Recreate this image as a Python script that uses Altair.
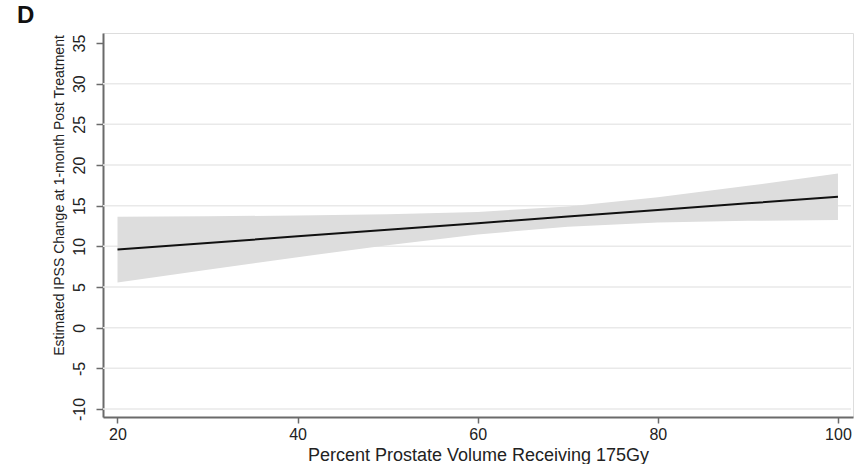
import altair as alt
import pandas as pd

# values
x_vals = [20, 30, 40, 50, 60, 70, 80, 90, 100]
fit = [9.60, 10.41, 11.23, 12.04, 12.85, 13.66, 14.48, 15.29, 16.10]
ci_low = [5.55, 7.12, 8.67, 10.14, 11.47, 12.42, 12.92, 13.14, 13.25]
ci_high = [13.65, 13.70, 13.79, 13.94, 14.23, 14.90, 16.04, 17.44, 18.95]

y_ticks = [-10, -5, 0, 5, 10, 15, 20, 25, 30, 35]
grid_vals = [-10, -5, 0, 5, 10, 15, 20, 25, 30]
x_ticks = [20, 40, 60, 80, 100]

df = pd.DataFrame({"x": x_vals, "fit": fit, "lo": ci_low, "hi": ci_high})
grid_df = pd.DataFrame({"g": grid_vals})

FONT = "Liberation Sans"
XDOM = [18.39, 101.67]
YDOM = [-10.98, 36.23]

xs = alt.Scale(domain=XDOM, nice=False, zero=False)
ys = alt.Scale(domain=YDOM, nice=False, zero=False)

x_axis = alt.Axis(
    values=x_ticks, title="Percent Prostate Volume Receiving 175Gy",
    grid=False, domainColor="#6a6a6a", domainWidth=2, tickColor="#6a6a6a",
    tickWidth=1.5, tickSize=6, labelFont=FONT, labelFontSize=16,
    labelColor="#222222", labelPadding=3, titleFont=FONT, titleFontSize=18,
    titleFontWeight="normal", titleColor="#222222", titleBaseline="alphabetic",
    titleY=43, labelFlush=False,
)
y_axis = alt.Axis(
    values=y_ticks, title="Estimated IPSS Change at 1-month Post Treatment",
    grid=False, domainColor="#6a6a6a", domainWidth=2, tickColor="#6a6a6a",
    tickWidth=1.5, tickSize=7, labelFont=FONT, labelFontSize=16,
    labelColor="#222222", labelAngle=270, labelAlign="center",
    labelBaseline="alphabetic", labelPadding=12, titleFont=FONT,
    labelExpr="datum.value < 0 ? '-' + abs(datum.value) : '' + datum.value",
    titleFontSize=14, titleFontWeight="normal", titleColor="#222222",
    titleAngle=270, titleAlign="center", titleBaseline="alphabetic",
    titleX=-40, titleY=162, labelFlush=False, labelOverlap=False,
)

grid = alt.Chart(grid_df).mark_rule(color="#e9e9e9", strokeWidth=1.5).encode(
    y=alt.Y("g:Q", scale=ys, axis=y_axis),
    x=alt.value(0), x2=alt.value(748),
)

band = alt.Chart(df).mark_area(color="#dddddd", opacity=1).encode(
    x=alt.X("x:Q", scale=xs, axis=x_axis),
    y=alt.Y("lo:Q", scale=ys),
    y2="hi:Q",
)

line = alt.Chart(df).mark_line(color="#111111", strokeWidth=2).encode(
    x=alt.X("x:Q", scale=xs),
    y=alt.Y("fit:Q", scale=ys),
)

label_df = pd.DataFrame({"t": ["D"]})
panel = alt.Chart(label_df).mark_text(
    font=FONT, fontSize=24, fontWeight="bold", align="left",
    baseline="alphabetic", color="#111111",
).encode(text="t:N", x=alt.value(-86), y=alt.value(-10))

chart = alt.layer(grid, band, line, panel).properties(
    width=750, height=384,
    padding={"left": 103, "top": 33, "right": 15, "bottom": 47},
    autosize=alt.AutoSizeParams(type="none"),
).configure_view(stroke=None).configure(background="white")

chart.save("out.html", embed_options={"renderer": "svg", "actions": False})
